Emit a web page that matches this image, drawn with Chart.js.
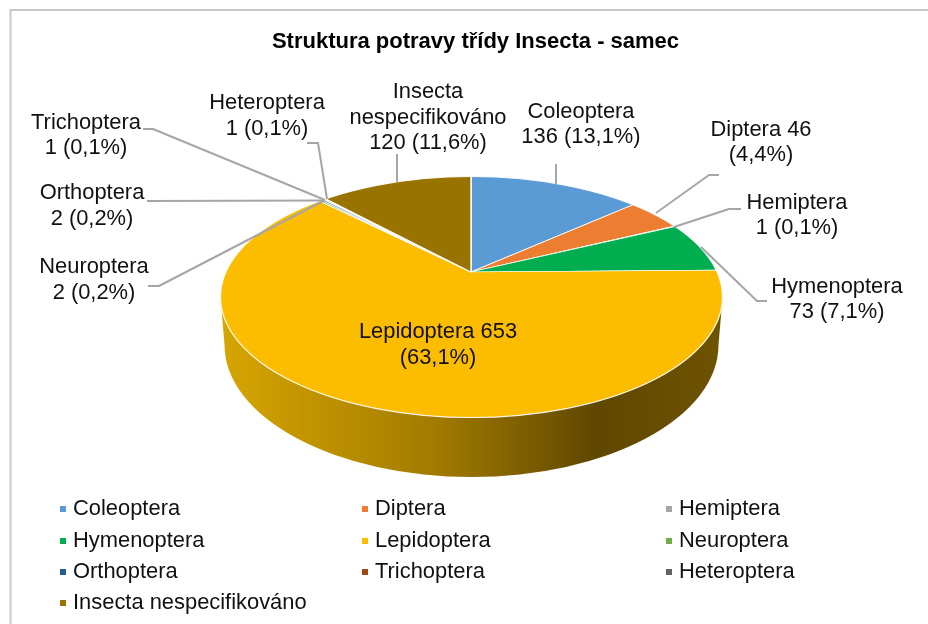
<!DOCTYPE html>
<html>
<head>
<meta charset="utf-8">
<script src="https://cdn.jsdelivr.net/npm/chart.js@4"></script>
<style>html,body{margin:0;padding:0;background:#fff}canvas{display:block;filter:blur(0.4px)}</style>
</head>
<body>
<canvas id="c" width="928" height="624"></canvas>
<script>
const categories = ['Coleoptera','Diptera','Hemiptera','Hymenoptera','Lepidoptera','Neuroptera','Orthoptera','Trichoptera','Heteroptera','Insecta nespecifikováno'];
const values = [136,46,1,73,653,2,2,1,1,120];
const colors = ['#5B9BD5','#ED7D31','#A5A5A5','#00AE50','#FCBC00','#70AD47','#255E91','#9E480E','#636363','#997300'];
const titleText = 'Struktura potravy třídy Insecta - samec';

const FONT = '"Liberation Sans", Arial, sans-serif';
const LABEL_SIZE = 21.9;
const total = values.reduce((a,b)=>a+b,0);
const pct = v => (v/total*100).toFixed(1).replace('.',',') + '%';

// label layout: category index, centre x, first line y, line break style, leader polyline
const labelLayout = [
  {i:0, x:581, y:112, dy:25, mode:'name', line:[[556,164],[556,184]]},
  {i:1, x:761, y:130, dy:25, mode:'value', line:[[719,175],[709,175],[656,213]]},
  {i:2, x:797, y:203, dy:25, mode:'name', line:[[741,209],[729,209],[674,227]]},
  {i:3, x:837, y:287, dy:25, mode:'name', line:[[767,301],[757,301],[701,247]]},
  {i:4, x:438, y:332, dy:26, mode:'value', line:null},
  {i:5, x:94,  y:267, dy:26, mode:'name', line:[[148,286],[159,286],[325,200]]},
  {i:6, x:92,  y:193, dy:26, mode:'name', line:[[147,201],[325,200.5]]},
  {i:7, x:86,  y:123, dy:25, mode:'name', line:[[143,129],[153,129],[325,200]]},
  {i:8, x:267, y:103, dy:26, mode:'name', line:[[307,143],[318,143],[327,199]]},
  {i:9, x:428, y:92,  dy:25.5, mode:'words', line:[[397,154],[397,182]]}
];
const legendCols = [60,362,666];
const legendRows = [509,541,572,603];

const APEX = {x:471, y:272};
const TOP = {cx:471.5, cy:297, rx:251, ry:120.5};
const BASE = {cx:471.5, cy:345, rx:247, ry:132};
const SQUASH = 0.45, REACH = 345;

function linesFor(l){
  const n = categories[l.i], v = values[l.i], p = '('+pct(v)+')';
  if (l.mode==='value') return [n+' '+v, p];
  if (l.mode==='words') return [...n.split(' '), v+' '+p];
  return [n, v+' '+p];
}

const pie3d = {
  id:'pie3d',
  beforeDatasetDraw(chart, args){
    const ctx = chart.ctx, arc = args.meta.data[0];
    const S = REACH/arc.outerRadius;
    // frame
    ctx.save();
    ctx.strokeStyle='#c9c9c9'; ctx.lineWidth=2;
    ctx.beginPath(); ctx.moveTo(10.5,640); ctx.lineTo(10.5,10); ctx.lineTo(940,10); ctx.stroke();
    // side wall
    const g = ctx.createLinearGradient(TOP.cx-TOP.rx,0,TOP.cx+TOP.rx,0);
    g.addColorStop(0,'#d6a600'); g.addColorStop(0.42,'#a37c00'); g.addColorStop(0.75,'#5f4700'); g.addColorStop(1,'#6e5300');
    ctx.fillStyle=g;
    ctx.beginPath();
    ctx.ellipse(TOP.cx,TOP.cy,TOP.rx,TOP.ry,0,Math.PI,0,true);
    ctx.ellipse(BASE.cx,BASE.cy,BASE.rx,BASE.ry,0,0,Math.PI,false);
    ctx.closePath(); ctx.fill();
    ctx.restore();
    // top face: the library's own arcs, projected and clipped to the face outline
    ctx.save();
    ctx.beginPath(); ctx.ellipse(TOP.cx,TOP.cy,TOP.rx,TOP.ry,0,0,Math.PI*2); ctx.clip();
    ctx.translate(APEX.x,APEX.y); ctx.scale(S,S*SQUASH); ctx.translate(-arc.x,-arc.y);
    args.meta.controller.draw();
    ctx.restore();
    ctx.save();
    ctx.strokeStyle='rgba(255,255,255,0.9)'; ctx.lineWidth=1.2;
    ctx.beginPath(); ctx.ellipse(TOP.cx,TOP.cy,TOP.rx,TOP.ry,0,0,Math.PI*2); ctx.stroke();
    ctx.restore();
    return false;
  },
  afterDraw(chart){
    const ctx = chart.ctx;
    ctx.save();
    ctx.strokeStyle='#a6a6a6'; ctx.lineWidth=2; ctx.lineJoin='round';
    labelLayout.forEach(l=>{
      if(!l.line) return;
      ctx.beginPath();
      l.line.forEach((p,k)=> k?ctx.lineTo(p[0],p[1]):ctx.moveTo(p[0],p[1]));
      ctx.stroke();
    });
    ctx.font = LABEL_SIZE+'px '+FONT;
    ctx.fillStyle='#111111'; ctx.textAlign='center'; ctx.textBaseline='middle';
    labelLayout.forEach(l=>{
      linesFor(l).forEach((t,k)=>ctx.fillText(t,l.x,l.y+k*l.dy));
    });
    // legend
    ctx.textAlign='left';
    categories.forEach((n,i)=>{
      const x = legendCols[i%3], y = legendRows[Math.floor(i/3)];
      ctx.fillStyle=colors[i];
      ctx.fillRect(x,y-3,6,6);
      ctx.fillStyle='#111111';
      ctx.fillText(n,x+13,y);
    });
    ctx.restore();
  }
};

new Chart(document.getElementById('c'),{
  type:'pie',
  data:{labels:categories,datasets:[{data:values,backgroundColor:colors,borderColor:'#ffffff',borderWidth:1.1}]},
  options:{
    responsive:false,animation:false,
    layout:{padding:{left:23,top:0,right:0,bottom:0}},
    plugins:{
      legend:{display:false},
      tooltip:{enabled:false},
      title:{display:true,text:titleText,color:'#000',align:'center',
        font:{family:FONT,size:22,weight:'bold'},padding:{top:29,bottom:10}}
    }
  },
  plugins:[pie3d]
});
</script>
</body>
</html>
